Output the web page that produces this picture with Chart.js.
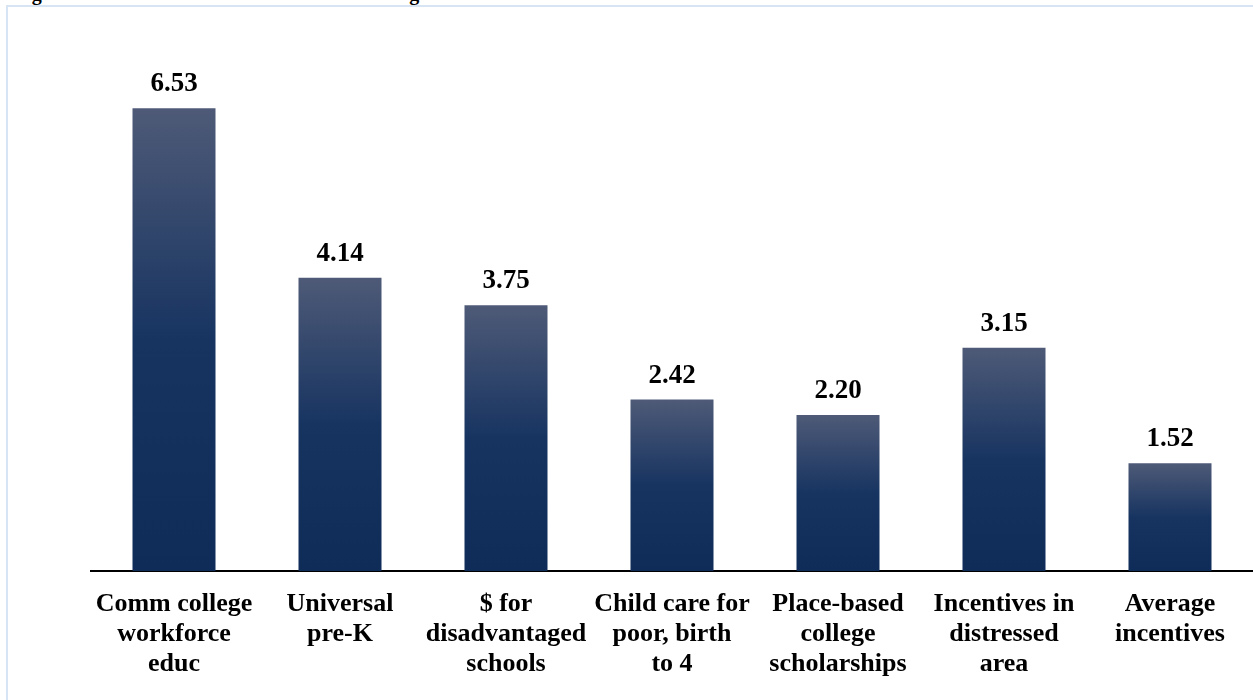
<!DOCTYPE html>
<html>
<head>
<meta charset="utf-8">
<script src="https://cdn.jsdelivr.net/npm/chart.js@4.4.1/dist/chart.umd.min.js"></script>
<style>
  html, body { margin: 0; padding: 0; background: #fff; overflow: hidden; }
  #wrap { position: relative; width: 1253px; height: 700px; }
  #frame { position: absolute; left: 6px; top: 5px; right: 0; bottom: 0;
           border-left: 2px solid #d7e4f4; border-top: 2px solid #d7e4f4; }
  #title { position: absolute; left: 14px; top: -17px; white-space: nowrap;
           font: bold 20px "Liberation Serif", "Times New Roman", serif; line-height: 20px; color: #000; }
  canvas { position: absolute; left: 0; top: 0; }
</style>
</head>
<body>
<div id="wrap">
  <div id="frame"></div>
  <div id="title">Figure 1: Total Benefit-Cost Ratio of Each Program</div>
  <canvas id="bcChart" width="1253" height="700"></canvas>
</div>
<script>
// categories and values
const programs = [
  ['Comm college', 'workforce', 'educ'],
  ['Universal', 'pre-K'],
  ['$ for', 'disadvantaged', 'schools'],
  ['Child care for', 'poor, birth', 'to 4'],
  ['Place-based', 'college', 'scholarships'],
  ['Incentives in', 'distressed', 'area'],
  ['Average', 'incentives']
];
const ratios = [6.53, 4.14, 3.75, 2.42, 2.20, 3.15, 1.52];

const serif = '"Liberation Serif", "Times New Roman", serif';

// vertical gradient for each bar, from its top down to zero
function barFill(ctx) {
  const chart = ctx.chart;
  if (!chart.chartArea) return '#15305c';
  const y = chart.scales.y;
  const top = y.getPixelForValue(ctx.raw);
  const bot = y.getPixelForValue(0);
  const g = chart.ctx.createLinearGradient(0, top, 0, bot);
  g.addColorStop(0, '#4e5a77');
  g.addColorStop(0.5, '#173461');
  g.addColorStop(1, '#0f2c59');
  return g;
}

// value labels above the bars
const valueLabels = {
  id: 'valueLabels',
  afterDatasetsDraw(chart) {
    const c = chart.ctx;
    const meta = chart.getDatasetMeta(0);
    c.save();
    c.font = 'bold 27px ' + serif;
    c.fillStyle = '#000';
    c.textAlign = 'center';
    c.textBaseline = 'alphabetic';
    meta.data.forEach((bar, i) => {
      c.fillText(ratios[i].toFixed(2), bar.x, bar.y - 17);
    });
    c.restore();
  }
};

const bcCtx = document.getElementById('bcChart').getContext('2d');
const bcChart = new Chart(bcCtx, {
  type: 'bar',
  data: {
    labels: programs,
    datasets: [{
      data: ratios,
      backgroundColor: barFill,
      borderWidth: 0,
      barPercentage: 0.5,
      categoryPercentage: 1.0
    }]
  },
  options: {
    responsive: false,
    animation: false,
    layout: { padding: { left: 91, right: 0, top: 75, bottom: 0 } },
    plugins: {
      legend: { display: false },
      tooltip: { enabled: false }
    },
    scales: {
      x: {
        grid: { display: false, drawTicks: false },
        border: { display: true, color: '#000', width: 2 },
        ticks: {
          color: '#000',
          padding: 18,
          maxRotation: 0,
          autoSkip: false,
          font: { family: serif, size: 26, weight: 'bold', lineHeight: 1.154 }
        },
        afterFit(scale) { scale.height = 129; }
      },
      y: {
        display: false,
        min: 0,
        max: 7
      }
    }
  },
  plugins: [valueLabels]
});
</script>
</body>
</html>
